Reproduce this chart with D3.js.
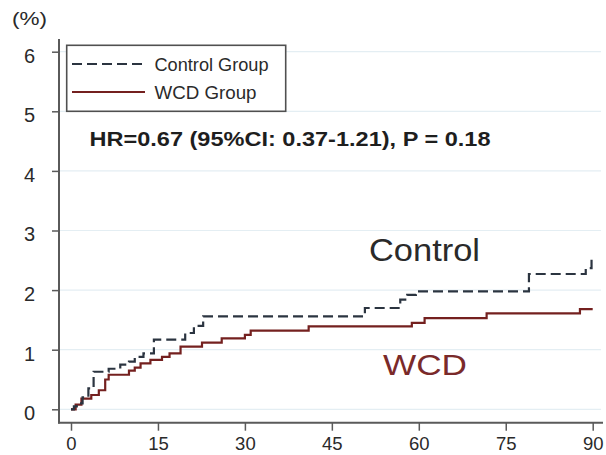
<!DOCTYPE html>
<html>
<head>
<meta charset="utf-8">
<script src="https://cdn.jsdelivr.net/npm/d3@7"></script>
<style>
  html, body { margin: 0; padding: 0; background: #fff; }
  svg { display: block; font-family: "Liberation Sans", Arial, sans-serif; }
</style>
</head>
<body>
<svg id="chart" width="606" height="455"></svg>
<script>
// Cumulative incidence (%) by day, step points [day, percent]
const controlSteps = [
  [0, 0], [0.5, 0.05], [1, 0.1], [2, 0.2], [3, 0.35], [3.9, 0.63], [6.5, 0.68],
  [8.5, 0.75], [10, 0.8], [11, 0.88], [12.5, 0.94], [14.3, 1.17], [19.7, 1.28],
  [21.2, 1.4], [22.8, 1.56], [50.7, 1.7], [56.8, 1.84], [58, 1.92], [59.5, 1.98],
  [79, 2.27], [88.8, 2.37], [89.8, 2.57], [90, 2.57]
];
const wcdSteps = [
  [0, 0], [0.8, 0.08], [1.8, 0.18], [3.5, 0.24], [4.8, 0.32], [5.9, 0.5], [6.5, 0.58],
  [10, 0.65], [11, 0.7], [12, 0.77], [13.7, 0.83], [15.7, 0.88], [17, 0.94],
  [18.9, 1.05], [22.6, 1.12], [26, 1.19], [30, 1.25], [31, 1.32], [41, 1.39],
  [58.8, 1.45], [61, 1.53], [71.7, 1.61], [87.8, 1.68], [90, 1.68]
];
const xTicks = [0, 15, 30, 45, 60, 75, 90];
const yTicks = [0, 1, 2, 3, 4, 5, 6];
const legendLabels = ["Control Group", "WCD Group"];
const hrText = "HR=0.67 (95%CI: 0.37-1.21), P = 0.18";
const groupLabels = ["Control", "WCD"];

const controlColor = "#2b3440";
const wcdColor = "#74201f";

const svg = d3.select("#chart");

const x = d3.scaleLinear().domain([0, 90]).range([71, 592.7]);
const y = d3.scaleLinear().domain([0, 6]).range([409.3, 51.7]);

// light horizontal gridlines
svg.append("g")
  .selectAll("line")
  .data(yTicks)
  .join("line")
  .attr("x1", 60).attr("x2", 601)
  .attr("y1", d => y(d)).attr("y2", d => y(d))
  .attr("stroke", "#e4eef3").attr("stroke-width", 1.2);

// axes
const axisColor = "#5a5a5a";
const yAxis = svg.append("g")
  .attr("transform", "translate(59,0)")
  .call(d3.axisLeft(y).tickValues(yTicks).tickSize(7).tickPadding(17).tickFormat(d3.format("d")));
yAxis.select(".domain").remove();
yAxis.selectAll(".tick line").attr("stroke", axisColor).attr("stroke-width", 1.5);
yAxis.selectAll(".tick text").attr("fill", "#2a2a2a").attr("y", 4)
  .style("font-size", "20px")
  .style("font-family", "Liberation Sans, Arial, sans-serif");

const xAxis = svg.append("g")
  .attr("transform", "translate(0,422.7)")
  .call(d3.axisBottom(x).tickValues(xTicks).tickSize(8).tickPadding(6).tickFormat(d3.format("d")));
xAxis.select(".domain").remove();
xAxis.selectAll(".tick line").attr("stroke", axisColor).attr("stroke-width", 1.5);
xAxis.selectAll(".tick text").attr("fill", "#2a2a2a").style("font-size", "18.5px")
  .style("font-family", "Liberation Sans, Arial, sans-serif");

// axis lines
svg.append("line").attr("x1", 59).attr("x2", 59).attr("y1", 39).attr("y2", 423.5)
  .attr("stroke", axisColor).attr("stroke-width", 2);
svg.append("line").attr("x1", 58).attr("x2", 603).attr("y1", 422.7).attr("y2", 422.7)
  .attr("stroke", axisColor).attr("stroke-width", 2);

// unit label
svg.append("text").attr("x", 12).attr("y", 25)
  .attr("fill", "#2a2a2a").style("font-size", "18px")
  .attr("textLength", 35).attr("lengthAdjust", "spacingAndGlyphs")
  .text("(%)");

// step curves
const line = d3.line()
  .x(d => x(d[0])).y(d => y(d[1]))
  .curve(d3.curveStepAfter);

svg.append("path").datum(wcdSteps)
  .attr("d", line).attr("fill", "none")
  .attr("stroke", wcdColor).attr("stroke-width", 2.2);

svg.append("path").datum(controlSteps)
  .attr("d", line).attr("fill", "none")
  .attr("stroke", controlColor).attr("stroke-width", 2.2)
  .attr("stroke-dasharray", "10,5");

// legend
const legend = svg.append("g");
legend.append("rect")
  .attr("x", 66.7).attr("y", 45.3).attr("width", 219).attr("height", 66)
  .attr("fill", "#fff").attr("stroke", "#505050").attr("stroke-width", 1.6);
const legendRows = [
  { label: legendLabels[0], color: controlColor, dash: "10,5", y: 64, width: 114 },
  { label: legendLabels[1], color: wcdColor, dash: null, y: 92, width: 102 }
];
legendRows.forEach(r => {
  legend.append("line")
    .attr("x1", 72).attr("x2", 145).attr("y1", r.y).attr("y2", r.y)
    .attr("stroke", r.color).attr("stroke-width", 2)
    .attr("stroke-dasharray", r.dash);
  legend.append("text")
    .attr("x", 154.5).attr("y", r.y + 7)
    .attr("fill", "#2a2a2a").style("font-size", "17.5px")
    .attr("textLength", r.width).attr("lengthAdjust", "spacingAndGlyphs")
    .text(r.label);
});

// hazard ratio annotation
svg.append("text")
  .attr("x", 89.5).attr("y", 146)
  .attr("fill", "#1e1e1e").style("font-size", "21px").style("font-weight", "bold")
  .attr("textLength", 401).attr("lengthAdjust", "spacingAndGlyphs")
  .text(hrText);

// group labels on the curves
svg.append("text")
  .attr("x", 369).attr("y", 261)
  .attr("fill", "#2a2a2a").style("font-size", "31px")
  .attr("textLength", 111).attr("lengthAdjust", "spacingAndGlyphs")
  .text(groupLabels[0]);
svg.append("text")
  .attr("x", 383).attr("y", 374.5)
  .attr("fill", "#7a2a2a").style("font-size", "30px")
  .attr("textLength", 84).attr("lengthAdjust", "spacingAndGlyphs")
  .text(groupLabels[1]);
</script>
</body>
</html>
